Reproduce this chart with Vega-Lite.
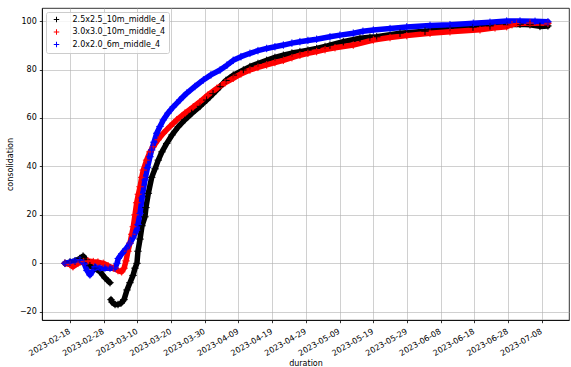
{
  "$schema": "https://vega.github.io/schema/vega-lite/v6.json",
  "width": 527,
  "height": 312,
  "autosize": {"type": "none"},
  "padding": {"left": 42, "top": 8, "right": 2, "bottom": 47},
  "background": "white",
  "config": {
    "font": "DejaVu Sans",
    "view": {"stroke": "#000000", "strokeWidth": 0.8},
    "axis": {
      "labelFont": "DejaVu Sans", "titleFont": "DejaVu Sans",
      "labelFontSize": 8, "titleFontSize": 8,
      "labelColor": "#000000", "titleColor": "#000000", "titleFontWeight": "normal",
      "domainColor": "#000000", "domainWidth": 0.8,
      "tickColor": "#000000", "tickWidth": 0.8, "tickSize": 2.7,
      "gridColor": "#b0b0b0", "gridWidth": 0.6, "labelPadding": 3, "labelOverlap": false
    }
  },
  "data": {"values": [
    {"t": "2023-02-16T12:00Z", "s": "2.5x2.5_10m_middle_4", "v": 0},
    {"t": "2023-02-18T00:00Z", "s": "2.5x2.5_10m_middle_4", "v": 0.5},
    {"t": "2023-02-19T12:00Z", "s": "2.5x2.5_10m_middle_4", "v": 1},
    {"t": "2023-02-20T23:00Z", "s": "2.5x2.5_10m_middle_4", "v": 2},
    {"t": "2023-02-21T21:00Z", "s": "2.5x2.5_10m_middle_4", "v": 3},
    {"t": "2023-02-22T18:00Z", "s": "2.5x2.5_10m_middle_4", "v": 1.5},
    {"t": "2023-02-23T22:00Z", "s": "2.5x2.5_10m_middle_4", "v": -1},
    {"t": "2023-02-25T10:00Z", "s": "2.5x2.5_10m_middle_4", "v": -2},
    {"t": "2023-02-26T22:00Z", "s": "2.5x2.5_10m_middle_4", "v": -3.5},
    {"t": "2023-02-28T09:00Z", "s": "2.5x2.5_10m_middle_4", "v": -6},
    {"t": "2023-03-01T21:00Z", "s": "2.5x2.5_10m_middle_4", "v": -8},
    {"t": "2023-03-02T00:00Z", "s": "2.5x2.5_10m_middle_4", "v": null},
    {"t": "2023-03-02T04:00Z", "s": "2.5x2.5_10m_middle_4", "v": -15},
    {"t": "2023-03-02T11:00Z", "s": "2.5x2.5_10m_middle_4", "v": -16},
    {"t": "2023-03-03T09:00Z", "s": "2.5x2.5_10m_middle_4", "v": -17},
    {"t": "2023-03-04T06:00Z", "s": "2.5x2.5_10m_middle_4", "v": -17},
    {"t": "2023-03-05T03:00Z", "s": "2.5x2.5_10m_middle_4", "v": -16.5},
    {"t": "2023-03-06T01:00Z", "s": "2.5x2.5_10m_middle_4", "v": -15},
    {"t": "2023-03-06T22:00Z", "s": "2.5x2.5_10m_middle_4", "v": -11},
    {"t": "2023-03-07T19:00Z", "s": "2.5x2.5_10m_middle_4", "v": -8},
    {"t": "2023-03-08T17:00Z", "s": "2.5x2.5_10m_middle_4", "v": -5},
    {"t": "2023-03-09T07:00Z", "s": "2.5x2.5_10m_middle_4", "v": -2},
    {"t": "2023-03-09T21:00Z", "s": "2.5x2.5_10m_middle_4", "v": 0},
    {"t": "2023-03-10T04:00Z", "s": "2.5x2.5_10m_middle_4", "v": 5},
    {"t": "2023-03-10T19:00Z", "s": "2.5x2.5_10m_middle_4", "v": 10},
    {"t": "2023-03-11T09:00Z", "s": "2.5x2.5_10m_middle_4", "v": 15.5},
    {"t": "2023-03-12T06:00Z", "s": "2.5x2.5_10m_middle_4", "v": 19.2},
    {"t": "2023-03-12T13:00Z", "s": "2.5x2.5_10m_middle_4", "v": 23},
    {"t": "2023-03-13T06:00Z", "s": "2.5x2.5_10m_middle_4", "v": 28.9},
    {"t": "2023-03-14T06:00Z", "s": "2.5x2.5_10m_middle_4", "v": 35.5},
    {"t": "2023-03-15T06:00Z", "s": "2.5x2.5_10m_middle_4", "v": 39},
    {"t": "2023-03-16T05:00Z", "s": "2.5x2.5_10m_middle_4", "v": 42.6},
    {"t": "2023-03-17T07:00Z", "s": "2.5x2.5_10m_middle_4", "v": 46},
    {"t": "2023-03-18T17:00Z", "s": "2.5x2.5_10m_middle_4", "v": 49.5},
    {"t": "2023-03-20T07:00Z", "s": "2.5x2.5_10m_middle_4", "v": 53},
    {"t": "2023-03-22T04:00Z", "s": "2.5x2.5_10m_middle_4", "v": 56.4},
    {"t": "2023-03-24T03:00Z", "s": "2.5x2.5_10m_middle_4", "v": 59.3},
    {"t": "2023-03-26T03:00Z", "s": "2.5x2.5_10m_middle_4", "v": 61.9},
    {"t": "2023-03-28T14:00Z", "s": "2.5x2.5_10m_middle_4", "v": 64.8},
    {"t": "2023-03-30T14:00Z", "s": "2.5x2.5_10m_middle_4", "v": 67.4},
    {"t": "2023-04-01T11:00Z", "s": "2.5x2.5_10m_middle_4", "v": 70},
    {"t": "2023-04-03T13:00Z", "s": "2.5x2.5_10m_middle_4", "v": 72.9},
    {"t": "2023-04-05T07:00Z", "s": "2.5x2.5_10m_middle_4", "v": 75.5},
    {"t": "2023-04-07T11:00Z", "s": "2.5x2.5_10m_middle_4", "v": 77.7},
    {"t": "2023-04-10T11:00Z", "s": "2.5x2.5_10m_middle_4", "v": 79.8},
    {"t": "2023-04-12T10:00Z", "s": "2.5x2.5_10m_middle_4", "v": 81.2},
    {"t": "2023-04-14T19:00Z", "s": "2.5x2.5_10m_middle_4", "v": 82.5},
    {"t": "2023-04-17T09:00Z", "s": "2.5x2.5_10m_middle_4", "v": 83.8},
    {"t": "2023-04-19T20:00Z", "s": "2.5x2.5_10m_middle_4", "v": 85},
    {"t": "2023-04-22T08:00Z", "s": "2.5x2.5_10m_middle_4", "v": 85.9},
    {"t": "2023-04-24T21:00Z", "s": "2.5x2.5_10m_middle_4", "v": 86.8},
    {"t": "2023-04-27T06:00Z", "s": "2.5x2.5_10m_middle_4", "v": 87.4},
    {"t": "2023-04-29T15:00Z", "s": "2.5x2.5_10m_middle_4", "v": 88},
    {"t": "2023-05-02T05:00Z", "s": "2.5x2.5_10m_middle_4", "v": 88.7},
    {"t": "2023-05-04T17:00Z", "s": "2.5x2.5_10m_middle_4", "v": 89.5},
    {"t": "2023-05-06T04:00Z", "s": "2.5x2.5_10m_middle_4", "v": 90.1},
    {"t": "2023-05-10T03:00Z", "s": "2.5x2.5_10m_middle_4", "v": 91.5},
    {"t": "2023-05-15T02:00Z", "s": "2.5x2.5_10m_middle_4", "v": 92.9},
    {"t": "2023-05-18T01:00Z", "s": "2.5x2.5_10m_middle_4", "v": 93.3},
    {"t": "2023-05-20T01:00Z", "s": "2.5x2.5_10m_middle_4", "v": 93.5},
    {"t": "2023-05-26T23:00Z", "s": "2.5x2.5_10m_middle_4", "v": 95},
    {"t": "2023-06-03T09:00Z", "s": "2.5x2.5_10m_middle_4", "v": 95.8},
    {"t": "2023-06-10T19:00Z", "s": "2.5x2.5_10m_middle_4", "v": 97},
    {"t": "2023-06-17T15:00Z", "s": "2.5x2.5_10m_middle_4", "v": 97.5},
    {"t": "2023-06-22T16:00Z", "s": "2.5x2.5_10m_middle_4", "v": 98},
    {"t": "2023-06-27T15:00Z", "s": "2.5x2.5_10m_middle_4", "v": 98.5},
    {"t": "2023-07-01T14:00Z", "s": "2.5x2.5_10m_middle_4", "v": 98.7},
    {"t": "2023-07-04T13:00Z", "s": "2.5x2.5_10m_middle_4", "v": 98.5},
    {"t": "2023-07-07T12:00Z", "s": "2.5x2.5_10m_middle_4", "v": 97.8},
    {"t": "2023-07-09T21:00Z", "s": "2.5x2.5_10m_middle_4", "v": 98},

    {"t": "2023-02-16T12:00Z", "s": "3.0x3.0_10m_middle_4", "v": 0},
    {"t": "2023-02-18T00:00Z", "s": "3.0x3.0_10m_middle_4", "v": -0.5},
    {"t": "2023-02-18T21:00Z", "s": "3.0x3.0_10m_middle_4", "v": -1.4},
    {"t": "2023-02-20T09:00Z", "s": "3.0x3.0_10m_middle_4", "v": 0},
    {"t": "2023-02-21T23:00Z", "s": "3.0x3.0_10m_middle_4", "v": 0.7},
    {"t": "2023-02-23T08:00Z", "s": "3.0x3.0_10m_middle_4", "v": 1},
    {"t": "2023-02-24T22:00Z", "s": "3.0x3.0_10m_middle_4", "v": 0.7},
    {"t": "2023-02-26T07:00Z", "s": "3.0x3.0_10m_middle_4", "v": 0.5},
    {"t": "2023-02-27T21:00Z", "s": "3.0x3.0_10m_middle_4", "v": 0},
    {"t": "2023-03-01T07:00Z", "s": "3.0x3.0_10m_middle_4", "v": -1},
    {"t": "2023-03-02T20:00Z", "s": "3.0x3.0_10m_middle_4", "v": -2},
    {"t": "2023-03-04T06:00Z", "s": "3.0x3.0_10m_middle_4", "v": -3},
    {"t": "2023-03-05T08:00Z", "s": "3.0x3.0_10m_middle_4", "v": -3.5},
    {"t": "2023-03-06T01:00Z", "s": "3.0x3.0_10m_middle_4", "v": -2},
    {"t": "2023-03-06T15:00Z", "s": "3.0x3.0_10m_middle_4", "v": 1},
    {"t": "2023-03-07T05:00Z", "s": "3.0x3.0_10m_middle_4", "v": 5},
    {"t": "2023-03-07T19:00Z", "s": "3.0x3.0_10m_middle_4", "v": 8.3},
    {"t": "2023-03-08T08:00Z", "s": "3.0x3.0_10m_middle_4", "v": 12},
    {"t": "2023-03-08T19:00Z", "s": "3.0x3.0_10m_middle_4", "v": 15.1},
    {"t": "2023-03-09T07:00Z", "s": "3.0x3.0_10m_middle_4", "v": 20},
    {"t": "2023-03-09T19:00Z", "s": "3.0x3.0_10m_middle_4", "v": 25},
    {"t": "2023-03-10T07:00Z", "s": "3.0x3.0_10m_middle_4", "v": 28.5},
    {"t": "2023-03-10T19:00Z", "s": "3.0x3.0_10m_middle_4", "v": 31.6},
    {"t": "2023-03-11T07:00Z", "s": "3.0x3.0_10m_middle_4", "v": 35.5},
    {"t": "2023-03-11T18:00Z", "s": "3.0x3.0_10m_middle_4", "v": 38.5},
    {"t": "2023-03-12T18:00Z", "s": "3.0x3.0_10m_middle_4", "v": 42.6},
    {"t": "2023-03-13T18:00Z", "s": "3.0x3.0_10m_middle_4", "v": 46},
    {"t": "2023-03-14T17:00Z", "s": "3.0x3.0_10m_middle_4", "v": 48.1},
    {"t": "2023-03-16T03:00Z", "s": "3.0x3.0_10m_middle_4", "v": 51},
    {"t": "2023-03-17T17:00Z", "s": "3.0x3.0_10m_middle_4", "v": 53.7},
    {"t": "2023-03-19T16:00Z", "s": "3.0x3.0_10m_middle_4", "v": 56.5},
    {"t": "2023-03-21T16:00Z", "s": "3.0x3.0_10m_middle_4", "v": 59.2},
    {"t": "2023-03-24T03:00Z", "s": "3.0x3.0_10m_middle_4", "v": 62},
    {"t": "2023-03-26T14:00Z", "s": "3.0x3.0_10m_middle_4", "v": 64.6},
    {"t": "2023-03-28T14:00Z", "s": "3.0x3.0_10m_middle_4", "v": 66.7},
    {"t": "2023-03-30T23:00Z", "s": "3.0x3.0_10m_middle_4", "v": 69.5},
    {"t": "2023-04-02T13:00Z", "s": "3.0x3.0_10m_middle_4", "v": 72.2},
    {"t": "2023-04-05T00:00Z", "s": "3.0x3.0_10m_middle_4", "v": 74.5},
    {"t": "2023-04-07T11:00Z", "s": "3.0x3.0_10m_middle_4", "v": 76.4},
    {"t": "2023-04-09T18:00Z", "s": "3.0x3.0_10m_middle_4", "v": 78.2},
    {"t": "2023-04-12T10:00Z", "s": "3.0x3.0_10m_middle_4", "v": 79.8},
    {"t": "2023-04-14T19:00Z", "s": "3.0x3.0_10m_middle_4", "v": 80.9},
    {"t": "2023-04-17T09:00Z", "s": "3.0x3.0_10m_middle_4", "v": 81.9},
    {"t": "2023-04-19T20:00Z", "s": "3.0x3.0_10m_middle_4", "v": 82.9},
    {"t": "2023-04-22T08:00Z", "s": "3.0x3.0_10m_middle_4", "v": 83.8},
    {"t": "2023-04-24T21:00Z", "s": "3.0x3.0_10m_middle_4", "v": 84.9},
    {"t": "2023-04-27T06:00Z", "s": "3.0x3.0_10m_middle_4", "v": 85.9},
    {"t": "2023-04-29T15:00Z", "s": "3.0x3.0_10m_middle_4", "v": 86.7},
    {"t": "2023-05-02T05:00Z", "s": "3.0x3.0_10m_middle_4", "v": 87.4},
    {"t": "2023-05-04T17:00Z", "s": "3.0x3.0_10m_middle_4", "v": 88.2},
    {"t": "2023-05-07T16:00Z", "s": "3.0x3.0_10m_middle_4", "v": 89},
    {"t": "2023-05-13T02:00Z", "s": "3.0x3.0_10m_middle_4", "v": 90.1},
    {"t": "2023-05-19T01:00Z", "s": "3.0x3.0_10m_middle_4", "v": 92.2},
    {"t": "2023-05-24T00:00Z", "s": "3.0x3.0_10m_middle_4", "v": 93.2},
    {"t": "2023-05-28T23:00Z", "s": "3.0x3.0_10m_middle_4", "v": 94},
    {"t": "2023-06-04T21:00Z", "s": "3.0x3.0_10m_middle_4", "v": 95},
    {"t": "2023-06-10T19:00Z", "s": "3.0x3.0_10m_middle_4", "v": 95.6},
    {"t": "2023-06-19T17:00Z", "s": "3.0x3.0_10m_middle_4", "v": 96.4},
    {"t": "2023-06-24T04:00Z", "s": "3.0x3.0_10m_middle_4", "v": 97.2},
    {"t": "2023-06-27T15:00Z", "s": "3.0x3.0_10m_middle_4", "v": 97.7},
    {"t": "2023-06-29T05:00Z", "s": "3.0x3.0_10m_middle_4", "v": 98.5},
    {"t": "2023-06-30T14:00Z", "s": "3.0x3.0_10m_middle_4", "v": 99},
    {"t": "2023-07-04T13:00Z", "s": "3.0x3.0_10m_middle_4", "v": 99.2},
    {"t": "2023-07-09T21:00Z", "s": "3.0x3.0_10m_middle_4", "v": 99.1},

    {"t": "2023-02-16T12:00Z", "s": "2.0x2.0_6m_middle_4", "v": 0},
    {"t": "2023-02-18T00:00Z", "s": "2.0x2.0_6m_middle_4", "v": 0.5},
    {"t": "2023-02-19T12:00Z", "s": "2.0x2.0_6m_middle_4", "v": 1},
    {"t": "2023-02-20T23:00Z", "s": "2.0x2.0_6m_middle_4", "v": 1.4},
    {"t": "2023-02-22T04:00Z", "s": "2.0x2.0_6m_middle_4", "v": 0},
    {"t": "2023-02-23T01:00Z", "s": "2.0x2.0_6m_middle_4", "v": -3},
    {"t": "2023-02-23T22:00Z", "s": "2.0x2.0_6m_middle_4", "v": -4.8},
    {"t": "2023-02-24T20:00Z", "s": "2.0x2.0_6m_middle_4", "v": -3},
    {"t": "2023-02-25T10:00Z", "s": "2.0x2.0_6m_middle_4", "v": -1.4},
    {"t": "2023-02-26T22:00Z", "s": "2.0x2.0_6m_middle_4", "v": -2},
    {"t": "2023-02-28T09:00Z", "s": "2.0x2.0_6m_middle_4", "v": -2},
    {"t": "2023-03-01T21:00Z", "s": "2.0x2.0_6m_middle_4", "v": -2},
    {"t": "2023-03-03T09:00Z", "s": "2.0x2.0_6m_middle_4", "v": -2},
    {"t": "2023-03-03T23:00Z", "s": "2.0x2.0_6m_middle_4", "v": 0},
    {"t": "2023-03-04T08:00Z", "s": "2.0x2.0_6m_middle_4", "v": 2},
    {"t": "2023-03-05T10:00Z", "s": "2.0x2.0_6m_middle_4", "v": 4},
    {"t": "2023-03-06T15:00Z", "s": "2.0x2.0_6m_middle_4", "v": 6},
    {"t": "2023-03-07T19:00Z", "s": "2.0x2.0_6m_middle_4", "v": 8.3},
    {"t": "2023-03-08T17:00Z", "s": "2.0x2.0_6m_middle_4", "v": 10.5},
    {"t": "2023-03-09T19:00Z", "s": "2.0x2.0_6m_middle_4", "v": 13.7},
    {"t": "2023-03-10T04:00Z", "s": "2.0x2.0_6m_middle_4", "v": 16},
    {"t": "2023-03-10T19:00Z", "s": "2.0x2.0_6m_middle_4", "v": 20.6},
    {"t": "2023-03-11T09:00Z", "s": "2.0x2.0_6m_middle_4", "v": 27},
    {"t": "2023-03-12T06:00Z", "s": "2.0x2.0_6m_middle_4", "v": 34.4},
    {"t": "2023-03-13T00:00Z", "s": "2.0x2.0_6m_middle_4", "v": 39.5},
    {"t": "2023-03-13T18:00Z", "s": "2.0x2.0_6m_middle_4", "v": 44},
    {"t": "2023-03-14T06:00Z", "s": "2.0x2.0_6m_middle_4", "v": 46.8},
    {"t": "2023-03-14T22:00Z", "s": "2.0x2.0_6m_middle_4", "v": 50},
    {"t": "2023-03-15T18:00Z", "s": "2.0x2.0_6m_middle_4", "v": 53.7},
    {"t": "2023-03-16T17:00Z", "s": "2.0x2.0_6m_middle_4", "v": 56.5},
    {"t": "2023-03-17T17:00Z", "s": "2.0x2.0_6m_middle_4", "v": 59.2},
    {"t": "2023-03-19T02:00Z", "s": "2.0x2.0_6m_middle_4", "v": 62},
    {"t": "2023-03-20T16:00Z", "s": "2.0x2.0_6m_middle_4", "v": 64.6},
    {"t": "2023-03-22T16:00Z", "s": "2.0x2.0_6m_middle_4", "v": 67.5},
    {"t": "2023-03-24T15:00Z", "s": "2.0x2.0_6m_middle_4", "v": 70.2},
    {"t": "2023-03-27T02:00Z", "s": "2.0x2.0_6m_middle_4", "v": 73},
    {"t": "2023-03-29T14:00Z", "s": "2.0x2.0_6m_middle_4", "v": 75.7},
    {"t": "2023-03-31T20:00Z", "s": "2.0x2.0_6m_middle_4", "v": 77.8},
    {"t": "2023-04-03T13:00Z", "s": "2.0x2.0_6m_middle_4", "v": 79.8},
    {"t": "2023-04-05T14:00Z", "s": "2.0x2.0_6m_middle_4", "v": 81.8},
    {"t": "2023-04-07T11:00Z", "s": "2.0x2.0_6m_middle_4", "v": 83.8},
    {"t": "2023-04-09T18:00Z", "s": "2.0x2.0_6m_middle_4", "v": 85.3},
    {"t": "2023-04-12T10:00Z", "s": "2.0x2.0_6m_middle_4", "v": 86.7},
    {"t": "2023-04-14T19:00Z", "s": "2.0x2.0_6m_middle_4", "v": 87.8},
    {"t": "2023-04-17T09:00Z", "s": "2.0x2.0_6m_middle_4", "v": 88.7},
    {"t": "2023-04-19T20:00Z", "s": "2.0x2.0_6m_middle_4", "v": 89.4},
    {"t": "2023-04-22T08:00Z", "s": "2.0x2.0_6m_middle_4", "v": 90.1},
    {"t": "2023-04-24T21:00Z", "s": "2.0x2.0_6m_middle_4", "v": 90.9},
    {"t": "2023-04-27T06:00Z", "s": "2.0x2.0_6m_middle_4", "v": 91.5},
    {"t": "2023-04-29T15:00Z", "s": "2.0x2.0_6m_middle_4", "v": 92},
    {"t": "2023-05-02T05:00Z", "s": "2.0x2.0_6m_middle_4", "v": 92.5},
    {"t": "2023-05-06T04:00Z", "s": "2.0x2.0_6m_middle_4", "v": 93.5},
    {"t": "2023-05-09T03:00Z", "s": "2.0x2.0_6m_middle_4", "v": 94.2},
    {"t": "2023-05-13T02:00Z", "s": "2.0x2.0_6m_middle_4", "v": 95},
    {"t": "2023-05-15T23:00Z", "s": "2.0x2.0_6m_middle_4", "v": 95.8},
    {"t": "2023-05-19T01:00Z", "s": "2.0x2.0_6m_middle_4", "v": 96.3},
    {"t": "2023-05-24T00:00Z", "s": "2.0x2.0_6m_middle_4", "v": 96.9},
    {"t": "2023-05-28T23:00Z", "s": "2.0x2.0_6m_middle_4", "v": 97.6},
    {"t": "2023-06-04T21:00Z", "s": "2.0x2.0_6m_middle_4", "v": 98.2},
    {"t": "2023-06-10T19:00Z", "s": "2.0x2.0_6m_middle_4", "v": 98.5},
    {"t": "2023-06-17T17:00Z", "s": "2.0x2.0_6m_middle_4", "v": 99.1},
    {"t": "2023-06-22T16:00Z", "s": "2.0x2.0_6m_middle_4", "v": 99.5},
    {"t": "2023-06-27T15:00Z", "s": "2.0x2.0_6m_middle_4", "v": 100},
    {"t": "2023-07-01T14:00Z", "s": "2.0x2.0_6m_middle_4", "v": 100},
    {"t": "2023-07-06T01:00Z", "s": "2.0x2.0_6m_middle_4", "v": 99.9},
    {"t": "2023-07-09T21:00Z", "s": "2.0x2.0_6m_middle_4", "v": 99.7}
  ]},
  "encoding": {
    "x": {
      "field": "t", "type": "temporal",
      "scale": {"type": "utc", "nice": false, "domain": [
        {"year": 2023, "month": 2, "date": 9, "hours": 16, "minutes": 30, "utc": true},
        {"year": 2023, "month": 7, "date": 16, "hours": 3, "utc": true}]},
      "axis": {
        "title": "duration", "format": "%Y-%m-%d", "labelAngle": -30,
        "labelAlign": "right", "labelBaseline": "top", "labelPadding": 4.5, "labelOffset": -2.5, "titlePadding": 2,
        "values": [
          {"year": 2023, "month": 2, "date": 18, "utc": true},
          {"year": 2023, "month": 2, "date": 28, "utc": true},
          {"year": 2023, "month": 3, "date": 10, "utc": true},
          {"year": 2023, "month": 3, "date": 20, "utc": true},
          {"year": 2023, "month": 3, "date": 30, "utc": true},
          {"year": 2023, "month": 4, "date": 9, "utc": true},
          {"year": 2023, "month": 4, "date": 19, "utc": true},
          {"year": 2023, "month": 4, "date": 29, "utc": true},
          {"year": 2023, "month": 5, "date": 9, "utc": true},
          {"year": 2023, "month": 5, "date": 19, "utc": true},
          {"year": 2023, "month": 5, "date": 29, "utc": true},
          {"year": 2023, "month": 6, "date": 8, "utc": true},
          {"year": 2023, "month": 6, "date": 18, "utc": true},
          {"year": 2023, "month": 6, "date": 28, "utc": true},
          {"year": 2023, "month": 7, "date": 8, "utc": true}
        ]
      }
    },
    "y": {
      "field": "v", "type": "quantitative",
      "scale": {"domain": [-23.4, 105.4], "nice": false, "zero": false},
      "axis": {"title": "consolidation", "values": [-20, 0, 20, 40, 60, 80, 100], "titlePadding": 5}
    },
    "color": {"field": "s", "type": "nominal",
      "scale": {"domain": ["2.5x2.5_10m_middle_4", "3.0x3.0_10m_middle_4", "2.0x2.0_6m_middle_4"], "range": ["#000000", "#ff0000", "#0000ff"]},
      "legend": {
        "title": null, "orient": "none", "legendX": 4, "legendY": 4,
        "fillColor": "rgba(255,255,255,0.8)", "strokeColor": "#cccccc", "cornerRadius": 2,
        "padding": 3.5, "labelFont": "DejaVu Sans", "labelFontSize": 8, "labelColor": "#000000",
        "symbolType": "M-1,0L1,0M0,-1L0,1", "symbolSize": 30, "symbolStrokeWidth": 1,
        "symbolFillColor": "transparent", "symbolOffset": 3, "labelOffset": 12, "rowPadding": 2.5,
        "encode": {"symbols": {"update": {"stroke": {"scale": "color", "field": "value"}, "opacity": {"value": 1}}}}
      }
    }
  },
  "layer": [
    {
      "mark": {"type": "line", "strokeWidth": 5.5, "strokeCap": "round", "strokeJoin": "round"}
    },
    {
      "mark": {"type": "point", "shape": "M-1,0L1,0M0,-1L0,1", "filled": false, "size": 56, "strokeWidth": 1, "opacity": 1}
    }
  ]
}
